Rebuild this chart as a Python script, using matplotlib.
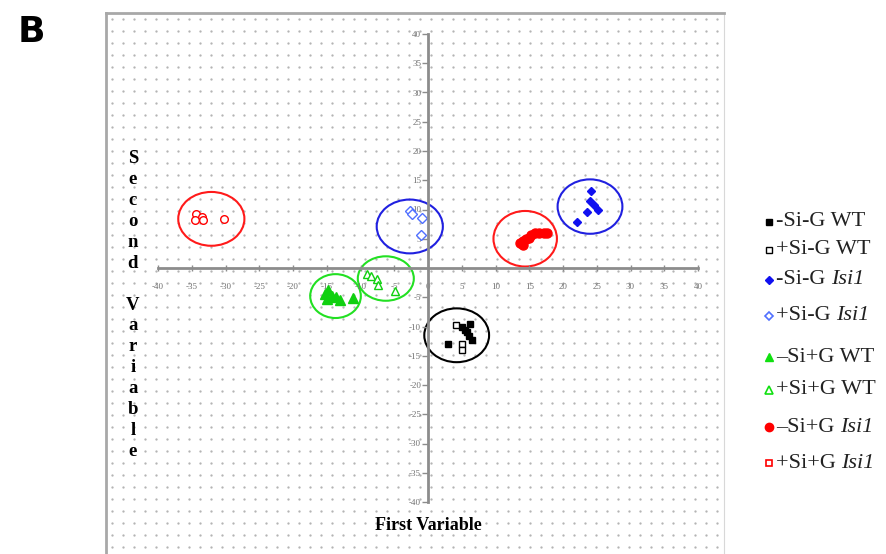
import numpy as np
import matplotlib.pyplot as plt
from matplotlib.patches import Ellipse
from matplotlib.transforms import offset_copy

plt.rcParams['font.family'] = ['Liberation Serif', 'DejaVu Serif']

# scores (first variable, second variable) per group
msi_mg_wt_x = [3.0, 5.0, 5.5, 6.2, 6.0, 6.5, 5.8]
msi_mg_wt_y = [-13.0, -10.0, -10.6, -9.5, -11.7, -12.3, -11.0]
psi_mg_wt_x = [4.2, 5.1, 5.1]
psi_mg_wt_y = [-9.7, -13.0, -14.0]
msi_mg_lsi_x = [24.1, 24.0, 24.6, 25.2, 23.6, 22.1]
msi_mg_lsi_y = [13.2, 11.4, 10.8, 10.0, 9.5, 7.9]
psi_mg_lsi_x = [-2.6, -2.3, -0.9, -1.1]
psi_mg_lsi_y = [9.7, 9.3, 8.5, 5.6]
msi_pg_wt_x = [-15.2, -14.8, -14.2, -13.6, -15.0, -13.0, -11.1]
msi_pg_wt_y = [-4.5, -3.8, -4.8, -5.0, -5.3, -5.4, -5.2]
psi_pg_wt_x = [-9.1, -8.4, -7.5, -7.4, -4.9]
psi_pg_wt_y = [-1.0, -1.3, -1.8, -2.9, -4.0]
msi_pg_lsi_x = [13.6, 14.1, 14.5, 15.0, 15.2, 15.9, 16.5, 17.2, 17.6, 14.0]
msi_pg_lsi_y = [4.3, 3.9, 4.9, 5.2, 5.6, 6.0, 5.9, 6.0, 5.9, 4.6]
psi_pg_lsi_x = [-34.3, -33.5, -34.5, -33.3, -30.2]
psi_pg_lsi_y = [9.3, 8.8, 8.2, 8.2, 8.3]

# hand drawn group rings
ring_x = [4.25, -2.7, 24.0, 14.4, -13.7, -6.25, -32.1]
ring_y = [-11.5, 7.1, 10.5, 5.0, -4.8, -1.8, 8.4]
ring_w = [9.6, 9.8, 9.6, 9.4, 7.5, 8.3, 9.8]
ring_h = [9.2, 9.2, 9.3, 9.5, 7.5, 7.6, 9.2]
ring_colors = ['black', '#2020e0', '#2020e0', '#ff1a1a', '#22e022', '#22e022', '#ff1a1a']

label_main = ['-Si-G WT', '+Si-G WT', '-Si-G ', '+Si-G ',
              '\u2013Si+G WT', '+Si+G WT', '\u2013Si+G ', '+Si+G ']
label_ital = ['', '', 'Isi1', 'Isi1', '', '', 'Isi1', 'Isi1']
tick_vals = list(range(-40, 45, 5))

W, H = 887, 554
fig = plt.figure(figsize=(W / 100, H / 100), dpi=100)
fig.patch.set_facecolor('white')

# panel with dotted background (pixel coordinates)
bg = fig.add_axes([106 / W, 0, (724 - 106) / W, (H - 13) / H])
bg.set_xlim(0, 618)
bg.set_ylim(541, 0)
gx, gy = np.meshgrid(np.arange(6, 618, 11), np.arange(6, 541, 12))
bg.scatter(gx.ravel(), gy.ravel(), s=2.8, c='#b4b4b4', linewidths=0)
bg.set_xticks([])
bg.set_yticks([])
for side in ['left', 'top']:
    bg.spines[side].set_color('#a8a8a8')
    bg.spines[side].set_linewidth(2)
bg.spines['right'].set_color('#d8d8d8')
bg.spines['bottom'].set_visible(False)

# main scatter axes: -40..40 maps to x 158..698 px, y 34..502 px
ax = fig.add_axes([158 / W, (H - 502) / H, 540 / W, 468 / H])
ax.patch.set_alpha(0)
ax.set_xlim(-40, 40)
ax.set_ylim(-40, 40)
for side in ['left', 'bottom']:
    ax.spines[side].set_position(('data', 0))
    ax.spines[side].set_color('#8c8c8c')
    ax.spines[side].set_linewidth(2)
ax.spines['top'].set_visible(False)
ax.spines['right'].set_visible(False)
ax.set_xticks(tick_vals)
ax.set_xticklabels([str(v) for v in tick_vals])
ax.set_yticks([v for v in tick_vals if v != 0])
ax.set_yticklabels([str(v) for v in tick_vals if v != 0])
ax.tick_params(axis='x', direction='inout', length=4, width=1, color='#8c8c8c',
               labelsize=6.5, labelcolor='#707070', pad=9)
ax.tick_params(axis='y', direction='out', length=4, width=1, color='#8c8c8c',
               labelsize=6.5, labelcolor='#707070', pad=1)

ax.plot(msi_mg_wt_x, msi_mg_wt_y, 's', color='black', ms=4.5, ls='none')
ax.plot(psi_mg_wt_x, psi_mg_wt_y, 's', mfc='white', mec='black', mew=1, ms=4.5, ls='none')
ax.plot(msi_mg_lsi_x, msi_mg_lsi_y, 'D', color='#1010f0', ms=4.5, ls='none')
ax.plot(psi_mg_lsi_x, psi_mg_lsi_y, 'D', mfc='white', mec='#5070ff', mew=1, ms=5, ls='none')
ax.plot(msi_pg_wt_x, msi_pg_wt_y, '^', color='#10d010', ms=6.5, ls='none')
ax.plot(psi_pg_wt_x, psi_pg_wt_y, '^', mfc='white', mec='#10d010', mew=1, ms=5.5, ls='none')
ax.plot(msi_pg_lsi_x, msi_pg_lsi_y, 'o', color='#ff0000', ms=6.5, ls='none')
ax.plot(psi_pg_lsi_x, psi_pg_lsi_y, 'o', mfc='white', mec='#ff0000', mew=1, ms=5.5, ls='none')

for cx, cy, w, h, c in zip(ring_x, ring_y, ring_w, ring_h, ring_colors):
    ax.add_patch(Ellipse((cx, cy), w, h, fill=False, ec=c, lw=1.5))

fig.text(428 / W, 1 - 525 / H, 'First Variable', ha='center', va='center',
         fontsize=13, fontweight='bold')
fig.text(133 / W, 1 - 305 / H, '\n'.join('Second Variable'), ha='center', va='center',
         fontsize=13.5, fontweight='bold', linespacing=1.3)
fig.text(31 / W, 1 - 32 / H, 'B', ha='center', va='center', fontsize=26,
         fontweight='heavy', family='DejaVu Sans')

# legend drawn in pixel coordinates
lg = fig.add_axes([0, 0, 1, 1])
lg.set_xlim(0, W)
lg.set_ylim(H, 0)
lg.axis('off')
leg_y = [222, 250, 280, 316, 357, 390, 427, 463]
leg_style = [dict(marker='s', color='black', ms=4),
             dict(marker='s', mfc='white', mec='black', mew=1, ms=4),
             dict(marker='D', color='#1010f0', ms=4),
             dict(marker='D', mfc='white', mec='#5070ff', mew=1.2, ms=4.5),
             dict(marker='^', color='#10e010', ms=6),
             dict(marker='^', mfc='white', mec='#10e010', mew=1.2, ms=5.5),
             dict(marker='o', color='#ff0000', ms=6),
             dict(marker='s', mfc='white', mec='#ff0000', mew=1.2, ms=4.5)]
renderer = fig.canvas.get_renderer()
for yy, lab, ital, st in zip(leg_y, label_main, label_ital, leg_style):
    lg.plot([769], [yy], ls='none', **st)
    t = lg.text(776, yy, lab, ha='left', va='center', fontsize=16, color='#222222')
    if ital:
        wpx = t.get_window_extent(renderer).width
        lg.text(776, yy, ital, ha='left', va='center', fontsize=16, color='#222222',
                style='italic',
                transform=offset_copy(lg.transData, fig=fig, x=wpx * 72 / fig.dpi, units='points'))

fig.savefig('out.png', dpi=100)
